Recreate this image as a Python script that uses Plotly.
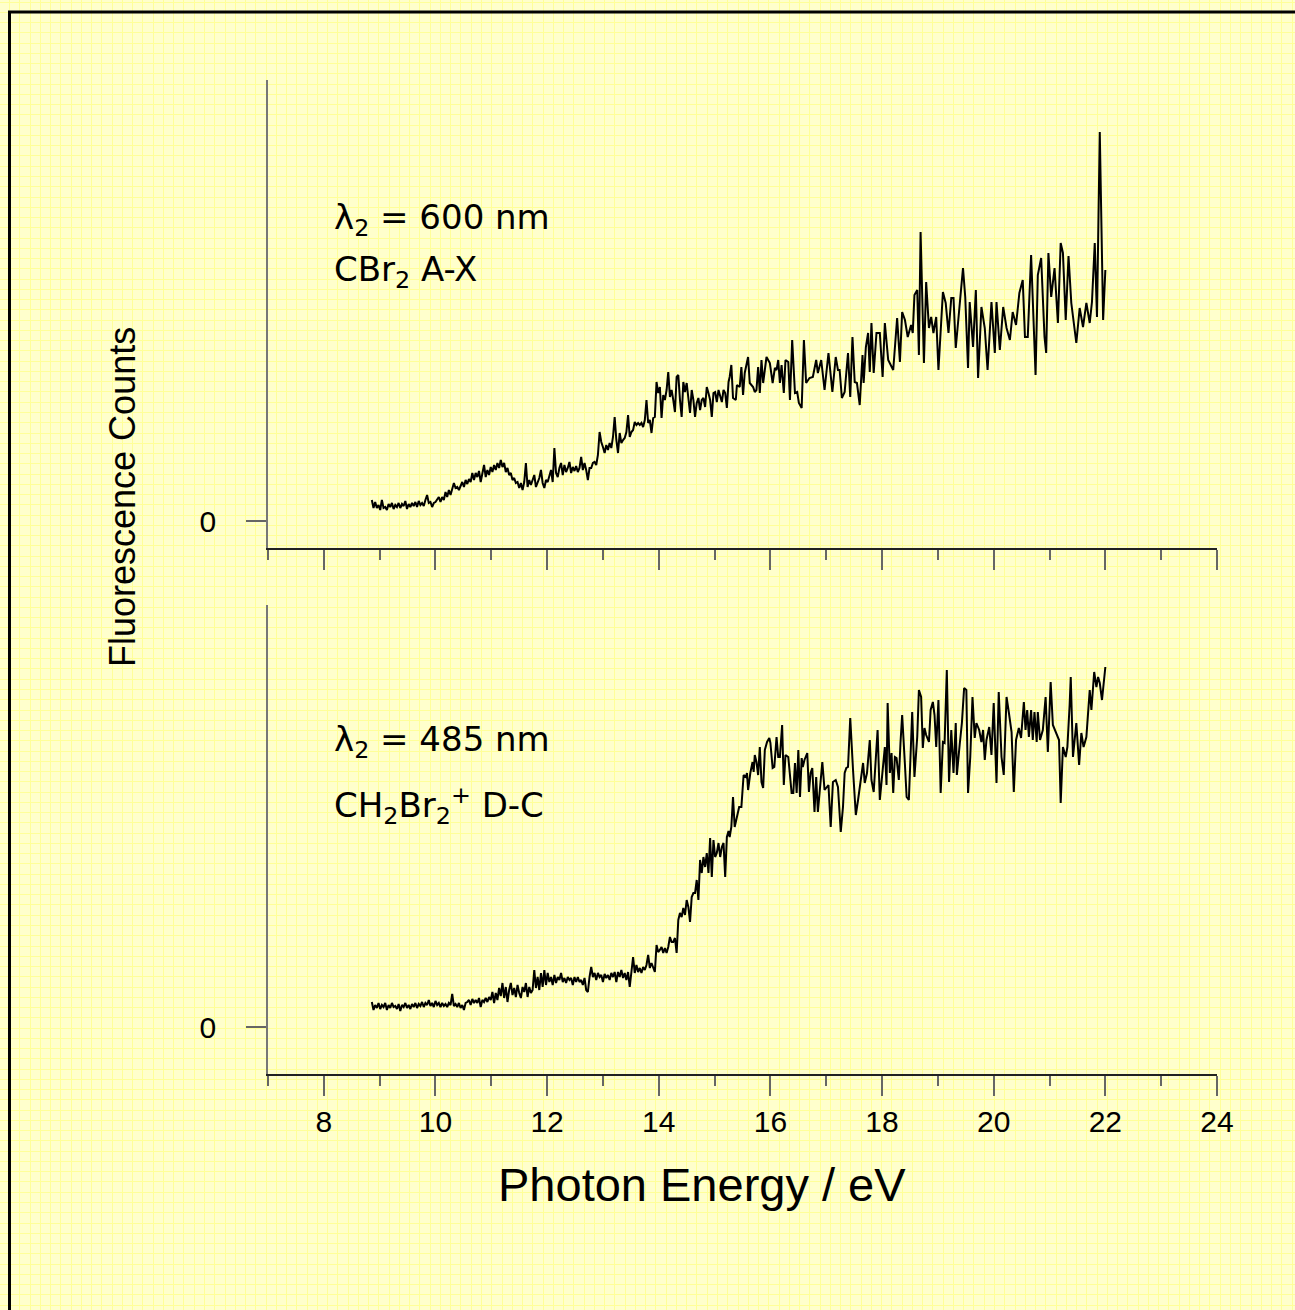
import plotly.graph_objects as go

# ---------------- data (photon energy in eV, fluorescence counts in arbitrary units) ----------------
low_energy = [
    8.86, 8.89, 8.92, 8.95, 8.98, 9.01, 9.04, 9.07, 9.10, 9.13,
    9.16, 9.19, 9.22, 9.25, 9.28, 9.31, 9.34, 9.37, 9.40, 9.43,
    9.46, 9.49, 9.52, 9.55, 9.58, 9.61, 9.64, 9.67, 9.70, 9.73,
    9.76, 9.79, 9.82, 9.85, 9.88, 9.91, 9.94, 9.97, 10.00, 10.03,
    10.06, 10.09, 10.12, 10.15, 10.18, 10.21, 10.24, 10.27, 10.30, 10.33,
    10.36, 10.39, 10.42, 10.45, 10.48, 10.51, 10.54, 10.57, 10.60, 10.63,
    10.66, 10.69, 10.72, 10.75, 10.78, 10.81, 10.84, 10.87, 10.90, 10.93,
    10.96, 10.99, 11.02, 11.05, 11.08, 11.11, 11.14, 11.17, 11.20, 11.23,
    11.26, 11.29, 11.32, 11.35, 11.38, 11.41, 11.44, 11.47, 11.50, 11.53,
    11.56, 11.59, 11.62, 11.65, 11.68, 11.71, 11.74, 11.77, 11.80, 11.83,
    11.86, 11.89, 11.92, 11.95, 11.98, 12.01, 12.04, 12.07, 12.10, 12.13,
    12.16, 12.19, 12.22, 12.25, 12.28, 12.31, 12.34, 12.37, 12.40, 12.43,
    12.46, 12.49, 12.52, 12.55, 12.58, 12.61, 12.64, 12.67, 12.70, 12.73,
    12.76, 12.79, 12.82, 12.85, 12.88, 12.91, 12.94, 12.97, 13.00, 13.03,
    13.06, 13.09, 13.12, 13.15, 13.18, 13.21, 13.24, 13.27, 13.30, 13.33,
    13.36, 13.39, 13.42, 13.45, 13.48, 13.51, 13.54, 13.57, 13.60, 13.63,
    13.66, 13.69, 13.72, 13.75, 13.78, 13.81, 13.84, 13.87, 13.90, 13.93,
    13.96, 13.99, 14.02, 14.05, 14.08, 14.11, 14.14, 14.17, 14.20, 14.23,
    14.26, 14.29, 14.32, 14.35, 14.38, 14.41, 14.44, 14.47, 14.50, 14.53,
    14.56, 14.59, 14.62, 14.65, 14.68, 14.71, 14.74, 14.77, 14.80, 14.83,
    14.86, 14.89, 14.92, 14.95, 14.98, 15.01, 15.04, 15.07, 15.10, 15.13,
    15.16, 15.19, 15.22, 15.25,
]

# CBr2 A-X (lambda2 = 600 nm), low-energy part
top_low_counts = [
    21, 13, 19, 13, 16, 11, 21, 13, 14, 11,
    17, 14, 18, 12, 16, 14, 18, 13, 17, 15,
    20, 12, 17, 14, 18, 15, 19, 14, 20, 16,
    18, 15, 21, 26, 18, 19, 14, 18, 19, 22,
    24, 19, 24, 21, 29, 24, 31, 26, 32, 38,
    33, 34, 31, 36, 39, 34, 41, 37, 42, 39,
    48, 41, 48, 44, 50, 39, 48, 56, 44, 51,
    46, 54, 49, 56, 51, 58, 53, 61, 54, 58,
    49, 53, 46, 48, 41, 43, 38, 39, 33, 38,
    31, 39, 58, 34, 41, 36, 41, 46, 34, 39,
    43, 51, 38, 33, 41, 39, 44, 51, 39, 73,
    48, 44, 53, 58, 46, 56, 49, 53, 59, 48,
    54, 50, 55, 49, 53, 64, 51, 58, 51, 41,
    53, 53, 58, 59, 56, 66, 89, 79, 74, 68,
    76, 71, 78, 73, 84, 104, 81, 68, 88, 78,
    81, 83, 89, 106, 84, 89, 91, 99, 96, 98,
    96, 98, 94, 101, 121, 98, 101, 88, 103, 104,
    139, 128, 134, 103, 126, 121, 131, 149, 124, 131,
    121, 109, 144, 146, 121, 104, 139, 129, 138, 121,
    108, 131, 121, 104, 118, 123, 111, 121, 123, 114,
    134, 128, 121, 104, 128, 129, 119, 131, 124, 119,
    131, 128, 113, 139,
]

# CH2Br2+ D-C (lambda2 = 485 nm), low-energy part
bottom_low_counts = [
    25, 17, 22, 19, 24, 18, 22, 20, 24, 17,
    22, 19, 24, 20, 21, 18, 23, 16, 22, 20,
    24, 19, 22, 18, 23, 20, 24, 19, 23, 21,
    25, 20, 24, 22, 27, 21, 24, 20, 26, 22,
    24, 20, 24, 21, 23, 20, 24, 22, 33, 21,
    23, 20, 24, 19, 22, 17, 24, 25, 27, 22,
    28, 24, 27, 24, 29, 20, 27, 25, 29, 25,
    30, 27, 35, 24, 34, 27, 39, 31, 44, 29,
    40, 25, 37, 44, 32, 39, 30, 42, 34, 29,
    40, 35, 44, 30, 40, 34, 37, 57, 39, 50,
    37, 54, 40, 57, 42, 54, 45, 50, 42, 52,
    44, 50, 47, 54, 45, 49, 44, 50, 47, 49,
    42, 50, 45, 50, 45, 47, 42, 49, 37, 35,
    50, 60, 50, 54, 47, 54, 50, 52, 45, 53,
    49, 52, 47, 54, 50, 55, 45, 55, 50, 57,
    49, 54, 47, 55, 40, 54, 70, 54, 62, 55,
    59, 54, 60, 57, 62, 72, 59, 64, 60, 55,
    82, 75, 77, 80, 74, 79, 74, 80, 90, 85,
    85, 89, 74, 107, 114, 110, 119, 112, 127, 120,
    105, 130, 134, 134, 147, 127, 167, 154, 170, 160,
    174, 154, 189, 150, 187, 170, 174, 184, 170, 180,
    184, 150, 190, 196,
]

top_high_energy = [
    15.27, 15.30, 15.33, 15.38, 15.40, 15.45, 15.48, 15.51, 15.54, 15.60,
    15.63, 15.69, 15.72, 15.75, 15.78, 15.81, 15.84, 15.87, 15.93, 15.99,
    16.04, 16.08, 16.11, 16.14, 16.17, 16.20, 16.24, 16.27, 16.32, 16.35,
    16.39, 16.44, 16.48, 16.51, 16.56, 16.60, 16.64, 16.70, 16.76, 16.82,
    16.85, 16.91, 16.97, 17.04, 17.11, 17.17, 17.21, 17.24, 17.28, 17.33,
    17.39, 17.43, 17.47, 17.51, 17.55, 17.60, 17.65, 17.67, 17.71, 17.75,
    17.78, 17.81, 17.85, 17.90, 17.96, 18.01, 18.05, 18.11, 18.20, 18.27,
    18.32, 18.36, 18.41, 18.46, 18.52, 18.55, 18.58, 18.63, 18.66, 18.69,
    18.75, 18.79, 18.84, 18.88, 18.92, 18.97, 19.01, 19.09, 19.14, 19.19,
    19.24, 19.28, 19.32, 19.38, 19.45, 19.49, 19.54, 19.57, 19.63, 19.68,
    19.72, 19.78, 19.84, 19.89, 19.96, 20.02, 20.05, 20.11, 20.17, 20.23,
    20.29, 20.34, 20.40, 20.46, 20.52, 20.56, 20.61, 20.67, 20.75, 20.79,
    20.85, 20.91, 20.94, 20.98, 21.03, 21.09, 21.15, 21.20, 21.24, 21.29,
    21.34, 21.39, 21.48, 21.54, 21.60, 21.66, 21.72, 21.76, 21.81, 21.85,
    21.90, 21.96, 22.00,
]
top_high_counts = [
    144, 156, 123, 121, 136, 134, 154, 126, 148, 164,
    138, 134, 129, 131, 154, 128, 161, 138, 164, 158,
    138, 153, 151, 161, 138, 156, 128, 161, 159, 121,
    181, 128, 129, 118, 113, 181, 138, 143, 144, 161,
    148, 161, 131, 168, 129, 164, 151, 151, 123, 129,
    168, 124, 184, 139, 138, 116, 166, 138, 174, 188,
    149, 198, 148, 188, 188, 144, 198, 161, 151, 203,
    159, 209, 201, 184, 196, 188, 226, 231, 166, 289,
    158, 239, 193, 204, 188, 204, 151, 229, 218, 188,
    223, 223, 173, 214, 253, 224, 153, 219, 174, 231,
    143, 214, 193, 151, 219, 168, 219, 171, 214, 193,
    181, 209, 196, 228, 241, 184, 184, 266, 146, 246,
    263, 184, 168, 268, 224, 253, 198, 278, 268, 201,
    265, 218, 178, 213, 194, 218, 198, 219, 278, 204,
    389, 201, 251,
]

bottom_high_energy = [
    15.27, 15.30, 15.33, 15.36, 15.40, 15.44, 15.48, 15.52, 15.56, 15.58,
    15.60, 15.64, 15.68, 15.70, 15.72, 15.75, 15.78, 15.81, 15.84, 15.87,
    15.90, 15.94, 15.98, 16.00, 16.04, 16.07, 16.11, 16.14, 16.17, 16.21,
    16.24, 16.27, 16.32, 16.38, 16.41, 16.44, 16.47, 16.50, 16.53, 16.56,
    16.58, 16.61, 16.66, 16.69, 16.72, 16.75, 16.79, 16.82, 16.85, 16.88,
    16.93, 16.97, 17.00, 17.04, 17.08, 17.12, 17.17, 17.21, 17.26, 17.30,
    17.33, 17.36, 17.39, 17.43, 17.48, 17.53, 17.57, 17.61, 17.66, 17.69,
    17.73, 17.78, 17.81, 17.85, 17.92, 17.96, 18.01, 18.05, 18.08, 18.10,
    18.14, 18.17, 18.20, 18.23, 18.26, 18.30, 18.33, 18.36, 18.41, 18.44,
    18.48, 18.54, 18.58, 18.63, 18.66, 18.70, 18.73, 18.76, 18.79, 18.84,
    18.87, 18.91, 18.94, 18.97, 19.01, 19.05, 19.09, 19.12, 19.16, 19.20,
    19.24, 19.28, 19.32, 19.34, 19.39, 19.43, 19.47, 19.51, 19.54, 19.58,
    19.62, 19.66, 19.69, 19.74, 19.78, 19.81, 19.84, 19.87, 19.92, 19.96,
    20.00, 20.05, 20.09, 20.14, 20.18, 20.23, 20.27, 20.32, 20.36, 20.40,
    20.45, 20.49, 20.54, 20.57, 20.60, 20.63, 20.67, 20.70, 20.73, 20.77,
    20.79, 20.83, 20.88, 20.93, 20.97, 21.02, 21.06, 21.11, 21.17, 21.20,
    21.24, 21.29, 21.32, 21.36, 21.38, 21.42, 21.48, 21.53, 21.57, 21.61,
    21.66, 21.72, 21.75, 21.80, 21.84, 21.87, 21.90, 21.94, 22.00,
]
bottom_high_counts = [
    190, 200, 230, 200, 210, 220, 220, 252, 250, 254,
    237, 254, 265, 255, 272, 265, 252, 280, 245, 239,
    277, 285, 289, 284, 259, 260, 290, 270, 270, 302,
    242, 272, 270, 234, 234, 264, 234, 277, 230, 269,
    260, 267, 274, 235, 254, 259, 215, 250, 215, 237,
    265, 237, 239, 242, 200, 245, 247, 240, 195, 220,
    254, 259, 260, 309, 257, 212, 227, 245, 264, 244,
    254, 287, 247, 235, 297, 227, 257, 280, 242, 324,
    254, 274, 234, 270, 269, 247, 284, 312, 262, 230,
    227, 315, 250, 290, 337, 330, 279, 299, 292, 285,
    317, 325, 312, 280, 327, 234, 285, 284, 357, 245,
    297, 254, 304, 252, 282, 304, 339, 337, 234, 270,
    330, 289, 304, 297, 285, 297, 267, 287, 300, 272,
    324, 244, 335, 270, 252, 330, 315, 295, 235, 287,
    299, 289, 325, 297, 317, 290, 317, 287, 315, 285,
    315, 287, 297, 330, 275, 345, 302, 295, 287, 224,
    280, 270, 280, 322, 350, 270, 304, 262, 294, 280,
    290, 337, 317, 355, 340, 350, 344, 327, 360,
]

assert len(low_energy) == len(top_low_counts) == len(bottom_low_counts)
assert len(top_high_energy) == len(top_high_counts)
assert len(bottom_high_energy) == len(bottom_high_counts)

top_energy = low_energy + top_high_energy
top_counts = top_low_counts + top_high_counts
bottom_energy = low_energy + bottom_high_energy
bottom_counts = bottom_low_counts + bottom_high_counts

x_range = [7, 24]
top_y_range = [-27, 441]
bottom_y_range = [-47, 422]
y_tick_values = [0]
y_tick_labels = ["0"]

top_label_lines = ["λ<sub>2</sub> = 600 nm", "CBr<sub>2</sub> A-X"]
bottom_label_lines = ["λ<sub>2</sub> = 485 nm", "CH<sub>2</sub>Br<sub>2</sub><sup>+</sup> D-C"]
x_title = "Photon Energy / eV"
y_title = "Fluorescence Counts"

# ---------------- layout helpers ----------------
W, H = 1295, 1310
def px(x):
    return x / W
def py(y):
    return 1 - y / H

FONT = "Liberation Sans, Arial, sans-serif"
WIDE_FONT = "DejaVu Sans, Verdana, sans-serif"
BG = "#FFFFCC"
GRID = "#FFFF99"

fig = go.Figure()

# background squared paper (full-figure hidden subplot)
fig.add_trace(go.Scatter(x=[], y=[], xaxis="x", yaxis="y", showlegend=False, hoverinfo="skip"))

line_style = dict(color="black", width=2)
fig.add_trace(go.Scatter(x=top_energy, y=top_counts, mode="lines", line=line_style,
                         xaxis="x2", yaxis="y2", showlegend=False))
fig.add_trace(go.Scatter(x=bottom_energy, y=bottom_counts, mode="lines", line=line_style,
                         xaxis="x3", yaxis="y3", showlegend=False))

x_dom = [px(268), px(1217)]

def xaxis_style(labels, anchor):
    return dict(
        domain=x_dom, anchor=anchor, range=x_range, tick0=0, dtick=2,
        ticks="outside", ticklen=20, tickwidth=1.5, tickcolor="#666666",
        showticklabels=labels, tickfont=dict(family=FONT, size=30, color="black"),
        ticklabelstandoff=0, automargin=False,
        minor=dict(dtick=1, tick0=0, ticks="outside", ticklen=10, tickwidth=1.5,
                   tickcolor="#666666", showgrid=False),
        showline=True, linecolor="#222222", linewidth=1.5,
        showgrid=False, zeroline=False, fixedrange=True,
    )

def yaxis_style(dom, rng, anchor):
    return dict(
        domain=dom, anchor=anchor, range=rng,
        tickvals=y_tick_values, ticktext=y_tick_labels,
        ticks="outside", ticklen=20, tickwidth=1.5, tickcolor="#666666",
        tickfont=dict(family=FONT, size=30, color="black"), ticklabelstandoff=24,
        automargin=False,
        showline=True, linecolor="#777777", linewidth=1.8,
        showgrid=False, zeroline=False, fixedrange=True,
    )

fig.update_layout(
    template="none",
    width=W, height=H, autosize=False,
    margin=dict(l=0, r=0, t=0, b=0, pad=0, autoexpand=False),
    paper_bgcolor=BG, plot_bgcolor="rgba(0,0,0,0)",
    showlegend=False,
    xaxis=dict(domain=[0, 1], range=[0, W], anchor="y", showgrid=True, gridcolor=GRID,
               gridwidth=1, tick0=19.8, dtick=10.26, showticklabels=False, ticks="",
               zeroline=False, showline=False, fixedrange=True, automargin=False),
    yaxis=dict(domain=[0, 1], range=[H, 0], anchor="x", showgrid=True, gridcolor=GRID,
               gridwidth=1, tick0=22.6, dtick=10.26, showticklabels=False, ticks="",
               zeroline=False, showline=False, fixedrange=True, automargin=False),
    xaxis2=xaxis_style(False, "y2"),
    yaxis2=yaxis_style([py(548), py(80)], top_y_range, "x2"),
    xaxis3=xaxis_style(True, "y3"),
    yaxis3=yaxis_style([py(1074), py(605)], bottom_y_range, "x3"),
)

# figure frame (left and top edges visible)
fig.add_shape(type="line", xref="paper", yref="paper", x0=px(9.5), x1=px(9.5), y0=py(11), y1=py(H),
              line=dict(color="black", width=3))
fig.add_shape(type="line", xref="paper", yref="paper", x0=px(8), x1=px(W), y0=py(12), y1=py(12),
              line=dict(color="black", width=3))

# axis titles
fig.add_annotation(text=x_title, xref="paper", yref="paper", x=px(702), y=py(1184),
                   xanchor="center", yanchor="middle", showarrow=False,
                   font=dict(family=FONT, size=47, color="black"))
fig.add_annotation(text=y_title, xref="paper", yref="paper", x=px(123), y=py(497),
                   xanchor="center", yanchor="middle", showarrow=False, textangle=-90,
                   font=dict(family=FONT, size=36, color="black"))

# panel labels
label_font = dict(family=WIDE_FONT, size=34, color="black")
for text, yc in zip(top_label_lines, [219, 272]):
    fig.add_annotation(text=text, xref="paper", yref="paper", x=px(332), y=py(yc),
                       xanchor="left", yanchor="middle", showarrow=False, font=label_font)
for text, yc in zip(bottom_label_lines, [741, 805]):
    fig.add_annotation(text=text, xref="paper", yref="paper", x=px(332), y=py(yc),
                       xanchor="left", yanchor="middle", showarrow=False, font=label_font)

fig.write_html("out.html", config={"responsive": False})
